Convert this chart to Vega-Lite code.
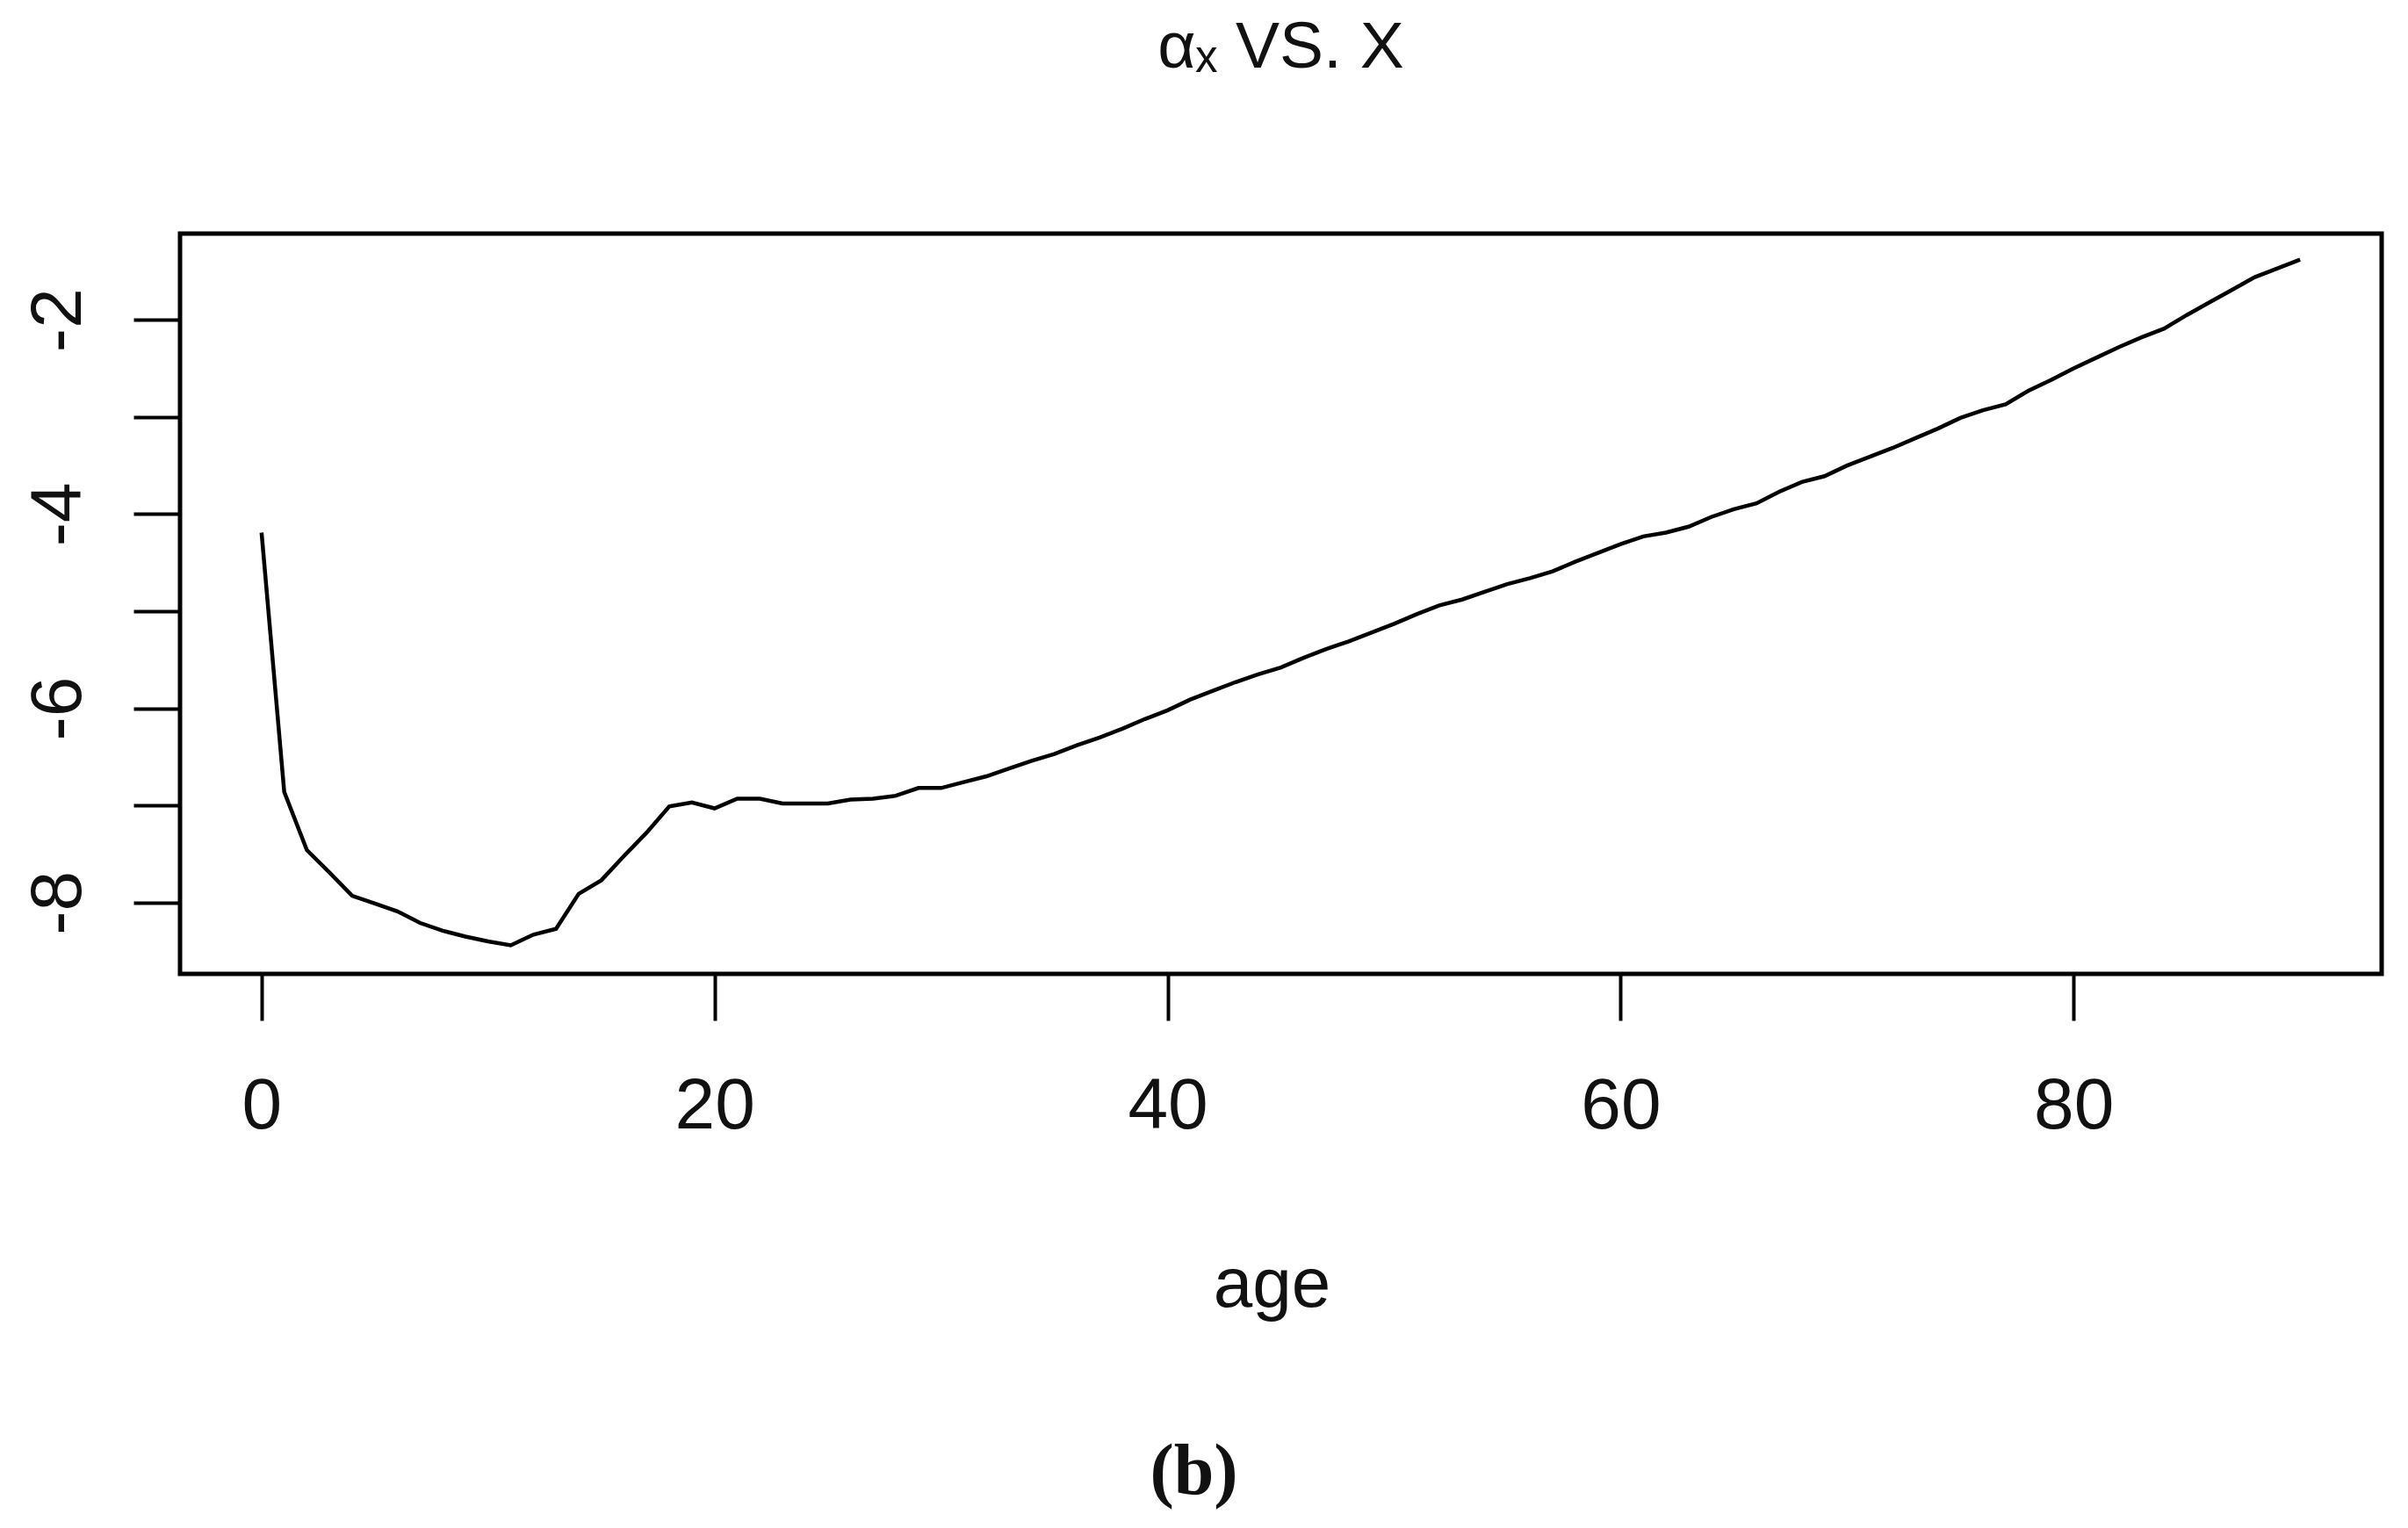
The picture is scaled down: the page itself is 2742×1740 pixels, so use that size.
{
  "$schema": "https://vega.github.io/schema/vega-lite/v6.json",
  "width": 2507,
  "height": 843,
  "autosize": {"type": "none"},
  "padding": {"left": 205, "top": 266, "right": 30, "bottom": 631},
  "background": "white",
  "title": {
    "text": "αₓ VS. X",
    "orient": "top",
    "anchor": "middle",
    "baseline": "alphabetic",
    "offset": 114,
    "font": "Liberation Sans",
    "fontSize": 75,
    "fontWeight": "normal",
    "color": "#111111"
  },
  "data": {
    "values": [
      {"age": 0, "ax": -4.19},
      {"age": 1, "ax": -6.86},
      {"age": 2, "ax": -7.46},
      {"age": 3, "ax": -7.69},
      {"age": 4, "ax": -7.93},
      {"age": 5, "ax": -8.01},
      {"age": 6, "ax": -8.09},
      {"age": 7, "ax": -8.21},
      {"age": 8, "ax": -8.29},
      {"age": 9, "ax": -8.35},
      {"age": 10, "ax": -8.40},
      {"age": 11, "ax": -8.44},
      {"age": 12, "ax": -8.33},
      {"age": 13, "ax": -8.27},
      {"age": 14, "ax": -7.91},
      {"age": 15, "ax": -7.77},
      {"age": 16, "ax": -7.52},
      {"age": 17, "ax": -7.28},
      {"age": 18, "ax": -7.01},
      {"age": 19, "ax": -6.97},
      {"age": 20, "ax": -7.03},
      {"age": 21, "ax": -6.93},
      {"age": 22, "ax": -6.93},
      {"age": 23, "ax": -6.98},
      {"age": 24, "ax": -6.98},
      {"age": 25, "ax": -6.98},
      {"age": 26, "ax": -6.94},
      {"age": 27, "ax": -6.93},
      {"age": 28, "ax": -6.90},
      {"age": 29, "ax": -6.82},
      {"age": 30, "ax": -6.82},
      {"age": 31, "ax": -6.76},
      {"age": 32, "ax": -6.70},
      {"age": 33, "ax": -6.62},
      {"age": 34, "ax": -6.54},
      {"age": 35, "ax": -6.47},
      {"age": 36, "ax": -6.38},
      {"age": 37, "ax": -6.30},
      {"age": 38, "ax": -6.21},
      {"age": 39, "ax": -6.11},
      {"age": 40, "ax": -6.02},
      {"age": 41, "ax": -5.91},
      {"age": 42, "ax": -5.82},
      {"age": 43, "ax": -5.73},
      {"age": 44, "ax": -5.65},
      {"age": 45, "ax": -5.58},
      {"age": 46, "ax": -5.48},
      {"age": 47, "ax": -5.39},
      {"age": 48, "ax": -5.31},
      {"age": 49, "ax": -5.22},
      {"age": 50, "ax": -5.13},
      {"age": 51, "ax": -5.03},
      {"age": 52, "ax": -4.94},
      {"age": 53, "ax": -4.88},
      {"age": 54, "ax": -4.80},
      {"age": 55, "ax": -4.72},
      {"age": 56, "ax": -4.66},
      {"age": 57, "ax": -4.59},
      {"age": 58, "ax": -4.49},
      {"age": 59, "ax": -4.40},
      {"age": 60, "ax": -4.31},
      {"age": 61, "ax": -4.23},
      {"age": 62, "ax": -4.19},
      {"age": 63, "ax": -4.13},
      {"age": 64, "ax": -4.03},
      {"age": 65, "ax": -3.95},
      {"age": 66, "ax": -3.89},
      {"age": 67, "ax": -3.77},
      {"age": 68, "ax": -3.67},
      {"age": 69, "ax": -3.61},
      {"age": 70, "ax": -3.50},
      {"age": 71, "ax": -3.41},
      {"age": 72, "ax": -3.32},
      {"age": 73, "ax": -3.22},
      {"age": 74, "ax": -3.12},
      {"age": 75, "ax": -3.01},
      {"age": 76, "ax": -2.93},
      {"age": 77, "ax": -2.87},
      {"age": 78, "ax": -2.73},
      {"age": 79, "ax": -2.62},
      {"age": 80, "ax": -2.50},
      {"age": 81, "ax": -2.39},
      {"age": 82, "ax": -2.28},
      {"age": 83, "ax": -2.18},
      {"age": 84, "ax": -2.09},
      {"age": 85, "ax": -1.95},
      {"age": 86, "ax": -1.82},
      {"age": 87, "ax": -1.69},
      {"age": 88, "ax": -1.56},
      {"age": 89, "ax": -1.47},
      {"age": 90, "ax": -1.38}
    ]
  },
  "layer": [
    {
      "mark": {"type": "line", "color": "#000000", "strokeWidth": 4.5, "clip": false},
      "encoding": {
        "x": {
          "field": "age",
          "type": "quantitative",
          "scale": {"domain": [-3.6, 93.6], "nice": false, "zero": false},
          "axis": {
            "orient": "bottom",
            "values": [0, 20, 40, 60, 80],
            "labelExpr": "'' + datum.value",
            "title": "age",
            "titleX": 1243,
            "titleY": 378,
            "titleBaseline": "alphabetic",
            "titleAnchor": "middle",
            "titleAlign": "center"
          }
        },
        "y": {
          "field": "ax",
          "type": "quantitative",
          "scale": {"domain": [-8.734, -1.112], "nice": false, "zero": false},
          "axis": {
            "values": [-8, -7, -6, -5, -4, -3, -2],
            "labelExpr": "datum.value % 2 == 0 ? '' + datum.value : ''",
            "labelAngle": -90,
            "labelAlign": "center",
            "labelBaseline": "bottom",
            "labelPadding": 44,
            "title": null
          }
        }
      }
    },
    {
      "mark": {"type": "line", "opacity": 0, "strokeWidth": 0},
      "encoding": {
        "x": {
          "field": "age",
          "type": "quantitative",
          "axis": {
            "orient": "bottom",
            "domain": false,
            "ticks": false,
            "labels": false,
            "grid": false,
            "title": "(b)",
            "titleFont": "Liberation Serif",
            "titleFontWeight": "bold",
            "titleFontSize": 82,
            "titleX": 1154,
            "titleY": 591,
            "titleBaseline": "alphabetic",
            "titleAnchor": "middle",
            "titleAlign": "center"
          }
        },
        "y": {"field": "ax", "type": "quantitative"}
      }
    }
  ],
  "resolve": {"axis": {"x": "independent"}},
  "config": {
    "view": {"stroke": "#000000", "strokeWidth": 5, "fill": "white"},
    "axis": {
      "domain": false,
      "grid": false,
      "ticks": true,
      "tickColor": "#000000",
      "tickWidth": 4,
      "tickSize": 53,
      "labelFont": "Liberation Sans",
      "labelFontSize": 82,
      "labelColor": "#111111",
      "labelFlush": false,
      "labelOverlap": false,
      "labelBound": false,
      "titleFont": "Liberation Sans",
      "titleFontSize": 80,
      "titleFontWeight": "normal",
      "titleColor": "#111111"
    },
    "axisX": {"labelBaseline": "top", "labelPadding": 57, "labelAlign": "center", "labelAngle": 0}
  }
}
